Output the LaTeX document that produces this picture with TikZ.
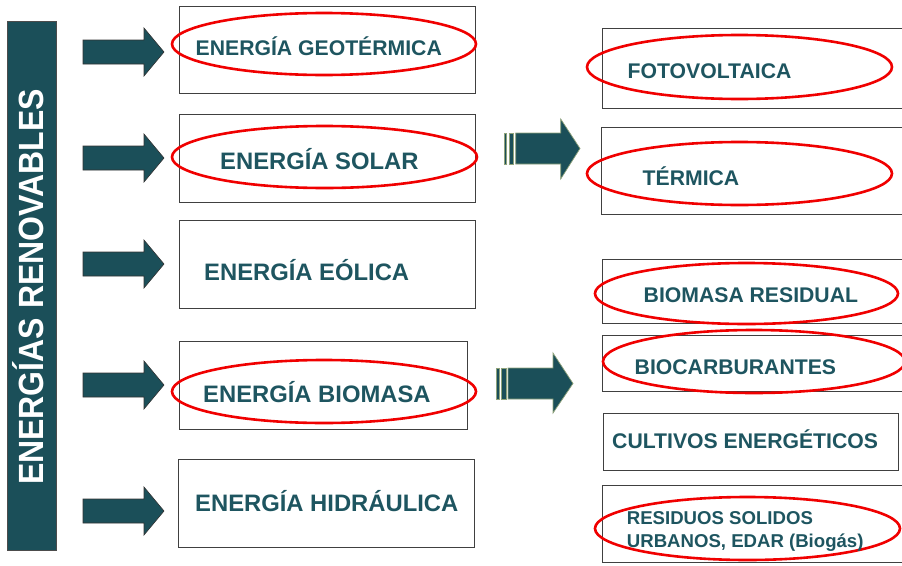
\documentclass[tikz,border=0pt]{standalone}
\usepackage{fontspec}
\setmainfont{Liberation Sans}
\usepackage{graphicx}
\definecolor{tealfill}{HTML}{1B4F59}
\definecolor{txt}{HTML}{1E5560}
\definecolor{ringred}{HTML}{F00000}
\definecolor{stripe}{HTML}{8FA27A}
\begin{document}
\begin{tikzpicture}[x=1pt,y=-1pt,
  box/.style={draw=black!75, line width=0.9pt},
  ring/.style={draw=ringred, line width=2.6pt},
  arr/.style={fill=tealfill, draw=black!80, line width=0.6pt},
  arrtwo/.style={fill=tealfill, draw=stripe, line width=0.7pt},
  lbl/.style={anchor=base west, inner sep=0pt, text=txt},
  fa/.style={font=\fontsize{23.8}{26}\bfseries\selectfont},
  fb/.style={font=\fontsize{21.2}{24}\bfseries\selectfont},
  fc/.style={font=\fontsize{18.6}{21}\bfseries\selectfont}
]
\clip (0,0) rectangle (902,565);
\fill[white] (0,0) rectangle (902,565);

% left bar
\draw[fill=tealfill, draw=black!70, line width=0.8pt] (7,21) rectangle (56,550);
\node[rotate=90, anchor=base, inner sep=0pt, text=white,
  font=\fontsize{35}{35}\bfseries\selectfont] (title) at (43,287)
  {\scalebox{0.914}[1]{ENERGÍAS RENOVABLES}};

% left block arrows
\foreach \y in {52,158,264,385,511}
  \draw[arr] (83,\y-12) -- (144,\y-12) -- (144,\y-24) -- (164,\y)
     -- (144,\y+24) -- (144,\y+12) -- (83,\y+12) -- cycle;

% striped arrows
\draw[arrtwo] (515.7,133) -- (560.7,133) -- (560.7,119) -- (580,148.5)
   -- (560.7,179) -- (560.7,164) -- (515.7,164) -- cycle;
\draw[arrtwo] (504,133) rectangle (506.7,164);
\draw[arrtwo] (509,133) rectangle (513.3,164);
\draw[arrtwo] (508,368) -- (553,368) -- (553,353) -- (573,383.5)
   -- (553,413) -- (553,399) -- (508,399) -- cycle;
\draw[arrtwo] (496,368) rectangle (499,399);
\draw[arrtwo] (501,368) rectangle (506,399);

% main boxes
\draw[box] (179,6) rectangle (475,93);
\draw[box] (179,114) rectangle (475,202);
\draw[box] (179,220) rectangle (475,308);
\draw[box] (179,341) rectangle (467,429);
\draw[box] (178,459) rectangle (474,547);

% right boxes
\draw[box] (602,28) rectangle (910,108);
\draw[box] (601,127) rectangle (910,214);
\draw[box] (602,259) rectangle (910,323);
\draw[box] (602,335) rectangle (910,391);
\draw[box] (603,413) rectangle (898,470);
\draw[box] (602,485) rectangle (910,562);

% red ellipses
\draw[ring] (324,44) ellipse [x radius=152, y radius=31];
\draw[ring] (324.5,157) ellipse [x radius=152.5, y radius=31];
\draw[ring] (324,391.5) ellipse [x radius=152, y radius=31.5];
\draw[ring] (739.5,67) ellipse [x radius=152.5, y radius=32];
\draw[ring] (739.5,173.5) ellipse [x radius=152.5, y radius=31.5];
\draw[ring] (746.5,293.5) ellipse [x radius=151.5, y radius=30.5];
\draw[ring] (754,361.5) ellipse [x radius=151, y radius=31.5];
\draw[ring] (747.5,528.5) ellipse [x radius=152.5, y radius=31.5];

% texts
\node[lbl, fb] (geo) at (195.5,55) {ENERGÍA GEOTÉRMICA};
\node[lbl, fa] (sol) at (220,169) {ENERGÍA SOLAR};
\node[lbl, fa] (eol) at (204,280) {ENERGÍA EÓLICA};
\node[lbl, fa] (bio) at (203,402) {ENERGÍA BIOMASA};
\node[lbl, fa] (hid) at (195,511) {ENERGÍA HIDRÁULICA};

\node[lbl, fb] (foto) at (627.5,78) {FOTOVOLTAICA};
\node[lbl, fb] (term) at (642.5,185) {TÉRMICA};
\node[lbl, fb] (bres) at (643.5,302) {BIOMASA RESIDUAL};
\node[lbl, fb] (bcar) at (634.5,374) {BIOCARBURANTES};
\node[lbl, fb] (cult) at (612,448) {CULTIVOS ENERGÉTICOS};
\node[lbl, fc] (rsua) at (626.7,524) {RESIDUOS SOLIDOS};
\node[lbl, fc] (rsub) at (626.7,547) {URBANOS, EDAR (Biogás)};
\end{tikzpicture}
\end{document}
